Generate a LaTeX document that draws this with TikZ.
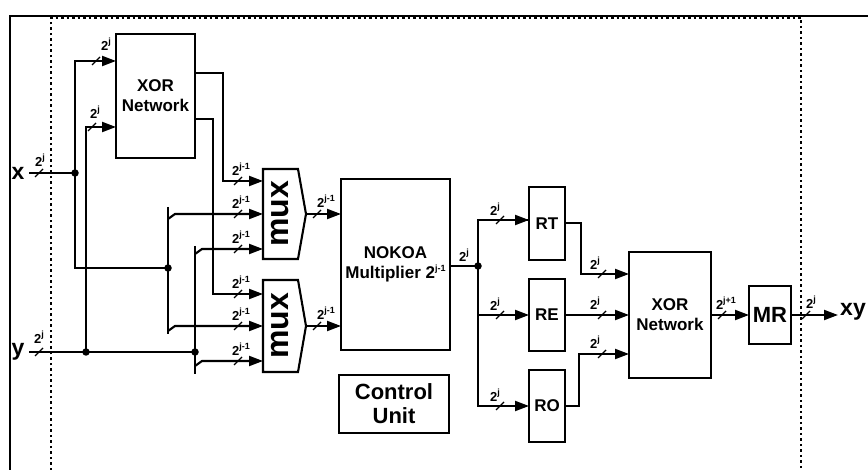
\documentclass[tikz,border=0pt]{standalone}
\usepackage{fontspec}
\setmainfont{Liberation Sans}
\usetikzlibrary{arrows.meta,calc}
\newcommand{\sups}[1]{\raisebox{0.45em}{\fontsize{9}{9}\selectfont #1}}
\begin{document}
\begin{tikzpicture}[x=1pt,y=-1pt,line width=2.1pt,
  arr/.style={-{Triangle[length=14pt,width=10pt]}},
  blk/.style={draw,inner sep=0pt,outer sep=0pt,anchor=north west,align=center,font=\bfseries\fontsize{17}{20}\selectfont},
  ghost/.style={inner sep=0pt,outer sep=0pt,anchor=north west},
  dot/.style={circle,fill,inner sep=0pt,minimum size=7.5pt},
  lab/.style={inner sep=0pt,font=\bfseries\fontsize{13}{13}\selectfont},
  big/.style={inner sep=0pt,font=\bfseries\fontsize{23}{23}\selectfont},
  muxtext/.style={inner sep=0pt,rotate=90,font=\bfseries\fontsize{32}{32}\selectfont},
  dotline/.style={line width=2.2pt,dash pattern=on 2.5pt off 3pt},
  pics/bus/.style n args={3}{code={\draw[line width=1.4pt] (-4,4)--(4,-4); \node[lab] at (#2,#3) {2\sups{#1}};}},
]
\useasboundingbox (0,0) rectangle (868,470);
% frames
\draw[dotline] (51,470) -- (51,18) -- (801,18) -- (801,470);
\draw[line width=1.6pt] (10,470) -- (10,16) -- (868,16);

% blocks
\node[blk,minimum width=79pt,minimum height=124pt] (xor1) at (116,34) {XOR\\Network};
\node[blk,minimum width=109pt,minimum height=171pt] (nok) at (341,179) {NOKOA\\Multiplier 2\sups{j-1}};
\node[blk,minimum width=110pt,minimum height=58pt,font=\bfseries\fontsize{22}{24}\selectfont] (cu) at (339,375) {Control\\Unit};
\node[blk,minimum width=36pt,minimum height=73pt] (rt) at (529,187) {RT};
\node[blk,minimum width=36pt,minimum height=72pt] (re) at (529,279) {RE};
\node[blk,minimum width=36pt,minimum height=72pt] (ro) at (529,370) {RO};
\node[blk,minimum width=82pt,minimum height=126pt] (xor2) at (629,252) {XOR\\Network};
\node[blk,minimum width=42pt,minimum height=58pt,font=\bfseries\fontsize{22}{22}\selectfont] (mr) at (749,286) {MR};

% muxes
\node[ghost,minimum width=35pt,minimum height=90pt] (mux1) at (263,169) {};
\node[ghost,minimum width=35pt,minimum height=92pt] (mux2) at (263,280) {};
\draw (mux1.north west) -- (mux1.north east) -- ($(mux1.east)+(8,0)$) coordinate (m1o) -- (mux1.south east) -- (mux1.south west) -- cycle;
\draw (mux2.north west) -- (mux2.north east) -- ($(mux2.east)+(8,0)$) coordinate (m2o) -- (mux2.south east) -- (mux2.south west) -- cycle;
\node[muxtext] at (mux1.center) {mux};
\node[muxtext] at (mux2.center) {mux};

% terminals
\node[big] (xin) at (18,173) {x};
\node[big] (yin) at (18,352) {y};
\node[big] (xy) at (853,312) {xy};
\coordinate (xs) at (29,173);
\coordinate (ys) at (29,352);

% junctions
\node[dot] (j1) at (75,173) {};
\node[dot] (j2) at (86,352) {};
\node[dot] (j3) at (168,268) {};
\node[dot] (j4) at (195,352) {};
\node[dot] (j5) at (478,266) {};

% inputs
\draw (xs) -- (j1.center);
\pic at (39,173) {bus={j}{1}{-13}};
\draw (ys) -- (j4.center);
\pic at (39,352) {bus={j}{0}{-15}};

% to XOR1
\draw[arr] (j1.center) |- ($(xor1.north west)+(0,27)$);
\pic at (96,61) {bus={j}{10}{-17}};
\draw (j1.center) |- (j3.center);
\draw[arr] (j2.center) |- ($(xor1.north west)+(0,93)$);
\pic at (92,127) {bus={j}{3}{-15}};

% bus bars
\coordinate (b1t) at (168,207);
\coordinate (b1b) at (168,334);
\coordinate (b2t) at (195,246);
\coordinate (b2b) at (195,374);
\draw (b1t) -- (b1b);
\draw (b2t) -- (b2b);
\draw[arr] ($(mux1.west -| b1t)+(0,5)$) -- ++(7,-5) -- (mux1.west);
\draw[arr] ($(mux2.west -| b1t)+(0,5)$) -- ++(7,-5) -- (mux2.west);
\draw[arr] ($(mux1.south west -| b2t)+(0,-5)$) -- ++(7,-5) -- ($(mux1.south west)+(0,-10)$);
\draw[arr] ($(mux2.south west -| b2t)+(0,-6)$) -- ++(7,-5) -- ($(mux2.south west)+(0,-11)$);

% XOR1 outputs
\draw[arr] ($(xor1.north east)+(0,39)$) -- ++(28,0) |- ($(mux1.north west)+(0,12)$);
\draw[arr] ($(xor1.north east)+(0,85)$) -- ++(18,0) |- ($(mux2.north west)+(0,14)$);

% mux input labels
\pic at (238,181) {bus={j-1}{3}{-12}};
\pic at (238,214) {bus={j-1}{3}{-12}};
\pic at (238,249) {bus={j-1}{3}{-12}};
\pic at (238,294) {bus={j-1}{3}{-12}};
\pic at (238,326) {bus={j-1}{3}{-12}};
\pic at (238,361) {bus={j-1}{3}{-12}};

% mux outputs
\draw[arr] (m1o) -- (nok.west |- m1o);
\draw[arr] (m2o) -- (nok.west |- m2o);
\pic at (317,214) {bus={j-1}{9}{-13}};
\pic at (317,326) {bus={j-1}{9}{-13}};

% NOKOA output
\draw (nok.east |- j5) -- (j5.center);
\node[lab] at (464,255) {2\sups{j}};
\draw (j5.center) |- ($(rt.north west)+(0,33)$);
\draw[arr] ($(rt.north west)+(-51,33)$) -- ($(rt.north west)+(0,33)$);
\draw[arr] (j5.center) |- (ro.west);
\draw[arr] (re.west -| j5) -- (re.west);
\pic at (500,220) {bus={j}{-5}{-11}};
\pic at (500,315) {bus={j}{-5}{-11}};
\pic at (500,406) {bus={j}{-5}{-11}};

% RT/RE/RO to XOR2
\draw[arr] ($(rt.north east)+(0,36)$) -- ++(16,0) |- ($(xor2.north west)+(0,22)$);
\draw[arr] (re.east) -- (xor2.west |- re.east);
\draw[arr] (ro.east) -- ++(14,0) |- ($(xor2.south west)+(0,-24)$);
\pic at (602,274) {bus={j}{-7}{-11}};
\pic at (602,315) {bus={j}{-7}{-12}};
\pic at (602,354) {bus={j}{-7}{-12}};

% XOR2 -> MR -> xy
\draw[arr] (xor2.east |- mr.west) -- (mr.west);
\pic at (722,315) {bus={j+1}{4}{-12}};
\draw[arr] (mr.east) -- ($(mr.east)+(47,0)$);
\pic at (806,315) {bus={j}{5}{-13}};
\end{tikzpicture}
\end{document}
